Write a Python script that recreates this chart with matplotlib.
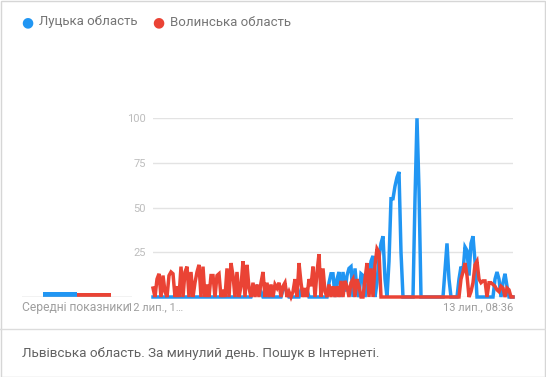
import matplotlib.pyplot as plt
import numpy as np

plt.rcParams['font.family'] = ['Roboto', 'DejaVu Sans']

# Google Trends, past day, 8-minute steps
series_names = ["Луцька область", "Волинська область"]
colors = ["#2196f3", "#ea4335"]

lutsk = [
    0, 0, 0, 0, 0, 0, 0, 0, 0, 0,
    0, 0, 0, 0, 0, 0, 0, 0, 0, 0,
    0, 0, 0, 0, 0, 0, 0, 0, 0, 0,
    0, 0, 0, 0, 0, 0, 0, 0, 0, 0,
    0, 0, 0, 0, 0, 0, 0, 0, 0, 0,
    3, 5, 6, 5, 3, 0, 0, 0, 0, 0,
    0, 0, 0, 0, 0, 4, 5, 3, 0, 0,
    0, 0, 0, 0, 4, 4, 4, 4, 0, 0,
    0, 0, 0, 0, 0, 0, 0, 0, 8, 13,
    13, 0, 10, 14, 0, 14, 3, 12, 16, 17,
    0, 16, 4, 0, 13, 12, 0, 5, 10, 20,
    23, 0, 8, 22, 30, 34, 10, 0, 20, 55,
    55, 62, 67, 70, 25, 0, 0, 0, 0, 0,
    0, 55, 100, 60, 0, 0, 0, 0, 0, 0,
    0, 0, 0, 0, 0, 0, 15, 30, 10, 0,
    0, 0, 0, 10, 17, 14, 28, 26, 12, 30,
    34, 20, 0, 0, 0, 0, 0, 0, 0, 0,
    0, 10, 14, 10, 0, 8, 13, 6, 0, 0,
    0,
]

volyn = [
    5, 0, 10, 13, 0, 12, 3, 0, 12, 14,
    13, 0, 6, 0, 17, 0, 14, 17, 0, 14,
    0, 8, 14, 18, 0, 17, 0, 7, 0, 12,
    12, 0, 12, 13, 0, 4, 0, 16, 0, 19,
    12, 0, 14, 0, 6, 20, 0, 18, 5, 0,
    8, 0, 7, 0, 8, 14, 0, 8, 0, 7,
    0, 7, 5, 8, 0, 6, 8, 0, 3, 0,
    3, 10, 0, 19, 8, 0, 5, 0, 10, 6,
    17, 0, 14, 24, 0, 16, 3, 0, 7, 0,
    6, 0, 6, 0, 9, 0, 9, 6, 0, 8,
    10, 0, 10, 6, 0, 0, 10, 19, 0, 16,
    0, 18, 27, 25, 0, 0, 0, 0, 0, 0,
    0, 0, 0, 0, 0, 0, 0, 0, 0, 0,
    0, 0, 0, 0, 0, 0, 0, 0, 0, 0,
    0, 0, 0, 0, 0, 0, 0, 0, 0, 0,
    0, 0, 0, 0, 10, 14, 19, 12, 0, 3,
    8, 18, 20, 10, 8, 9, 9, 0, 8, 8,
    7, 6, 4, 3, 6, 5, 0, 5, 4, 0,
    0,
]

averages = [3, 2]
avg_label = "Середні показники"
x_labels = ["12 лип., 1…", "13 лип., 08:36"]
y_ticks = [25, 50, 75, 100]
footer = "Львівська область. За минулий день. Пошук в Інтернеті."

W, H = 546, 377
fig = plt.figure(figsize=(W / 100, H / 100), dpi=100)

def fx(px):
    return px / W

def fy(py):
    return 1 - py / H

# card frame and separator
fig.add_artist(plt.Rectangle((0.5 / W, 0.5 / H), 1 - 1.5 / W, 1 - 1.5 / H,
                             transform=fig.transFigure, fill=False,
                             edgecolor="#d6d6d6", lw=1))
fig.add_artist(plt.Line2D([0, 1], [fy(329), fy(329)], color="#dcdcdc", lw=1))

# legend
fig.text(fx(27), fy(22), "●", color=colors[0], fontsize=10, ha="center", va="center")
fig.text(fx(39), fy(22), series_names[0], color="#757575", fontsize=9.5, va="center")
fig.text(fx(158), fy(22), "●", color=colors[1], fontsize=10, ha="center", va="center")
fig.text(fx(170), fy(22), series_names[1], color="#757575", fontsize=9.5, va="center")

# main chart
ax = fig.add_axes([fx(153), fy(297), fx(360), (297 - 118.3) / H])
x = np.arange(len(lutsk))
ax.plot(x, lutsk, color=colors[0], lw=2.5, clip_on=False, solid_joinstyle="miter")
ax.plot(x, volyn, color=colors[1], lw=2.5, clip_on=False, solid_joinstyle="miter")
ax.set_xlim(0, len(lutsk) - 1)
ax.set_ylim(0, 100)
ax.set_yticks(y_ticks)
ax.set_yticklabels([str(v) for v in y_ticks])
ax.grid(axis="y", color="#e3e3e3", lw=1)
ax.set_axisbelow(True)
ax.tick_params(axis="y", length=0, pad=5, labelsize=8, labelcolor="#bdbdbd")
ax.set_xticks([1, len(lutsk) - 1])
ax.set_xticklabels(x_labels)
ax.get_xticklabels()[1].set_ha("right")
ax.tick_params(axis="x", length=0, pad=4, labelsize=8, labelcolor="#9e9e9e")
for s in ax.spines.values():
    s.set_visible(False)
ax.axhline(0, color="#dddddd", lw=1, zorder=0)

# averages panel
ax2 = fig.add_axes([fx(22), fy(297), fx(110), (297 - 118.3) / H])
ax2.bar([0, 1], averages, width=1.0, color=colors, align="edge")
ax2.set_xlim(-0.62, 2.62)
ax2.set_ylim(0, 100)
ax2.axis("off")
ax2.axhline(0, color="#bdbdbd", lw=1)
fig.text(fx(22), fy(308), avg_label, color="#9e9e9e", fontsize=8.7, va="center")

# footer
fig.text(fx(22), fy(354), footer, color="#616161", fontsize=9.7, va="center")

fig.savefig("out.png", dpi=100)
